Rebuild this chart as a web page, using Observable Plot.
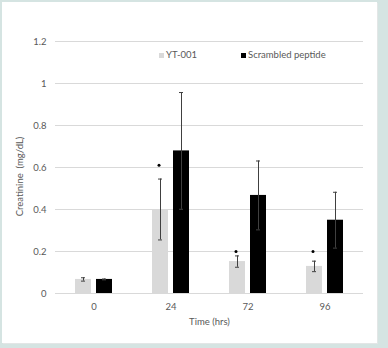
<!DOCTYPE html>
<html>
<head>
<meta charset="utf-8">
<script src="https://cdn.jsdelivr.net/npm/d3@7"></script>
<script src="https://cdn.jsdelivr.net/npm/@observablehq/plot@0.6"></script>
<style>
  html, body { margin: 0; padding: 0; }
  body { width: 388px; height: 348px; background: #d5e4e2; position: relative; overflow: hidden; font-family: Lato, "DejaVu Sans", sans-serif; }
  #panel { position: absolute; left: 2px; top: 2px; width: 375px; height: 341px; background: #fff; box-shadow: 1px 1px 0 #e3e6e6; }
  #legend { position: absolute; left: 0; top: 47px; width: 375px; font-size: 9.5px; color: #595959; }
  .item { position: absolute; white-space: nowrap; }
  .sw { display: inline-block; width: 5px; height: 5px; margin-right: 2px; vertical-align: 0px; }
</style>
</head>
<body>
<div id="panel"><div id="legend"></div></div>
<script>
const times = ["0", "24", "72", "96"];
const seriesNames = ["YT-001", "Scrambled peptide"];
const seriesColors = ["#d9d9d9", "#000000"];
const ytValues = [0.067, 0.40, 0.152, 0.129];
const ytErrors = [0.008, 0.145, 0.027, 0.025];
const scrValues = [0.067, 0.679, 0.467, 0.349];
const scrErrors = [0.002, 0.278, 0.164, 0.133];
const sigMarks = [null, 0.611, 0.2, 0.2];
const yTicks = [0, 0.2, 0.4, 0.6, 0.8, 1, 1.2];
const yLabel = "Creatinine  (mg/dL)";

const rows = [];
times.forEach((t, i) => {
  rows.push({time: t, series: seriesNames[0], value: ytValues[i], err: ytErrors[i]});
  rows.push({time: t, series: seriesNames[1], value: scrValues[i], err: scrErrors[i]});
});
const sig = times.map((t, i) => ({time: t, series: seriesNames[0], value: sigMarks[i]})).filter(d => d.value != null);

const textColor = "#595959";
const plot = Plot.plot({
  width: 375,
  height: 341,
  marginLeft: 51,
  marginRight: 13,
  marginTop: 39,
  marginBottom: 50,
  style: {fontFamily: "Lato, 'DejaVu Sans', sans-serif", fontSize: "9.5px", color: textColor, background: "transparent"},
  fx: {domain: times, padding: 0},
  x: {domain: seriesNames, paddingInner: 0.227, paddingOuter: 0.88, axis: null},
  y: {domain: [0, 1.2], ticks: yTicks},
  color: {domain: seriesNames, range: seriesColors},
  marks: [
    Plot.gridY(yTicks, {stroke: "#d9d9d9", strokeOpacity: 1, strokeWidth: 1}),
    Plot.axisY({ticks: yTicks, tickSize: 0, tickPadding: 9, tickFormat: d => String(+d.toFixed(1)), label: null, fill: textColor}),
    Plot.text([yLabel], {frameAnchor: "left", textAnchor: "middle", rotate: -90, dx: -36, dy: 9, fill: textColor, fontSize: 9.5, facet: "super"}),
    Plot.axisFx({anchor: "bottom", tickSize: 0, tickPadding: 10, label: "Time (hrs)", labelAnchor: "center", labelArrow: "none", labelOffset: 31, fill: textColor}),
    Plot.barY(rows, {fx: "time", x: "series", y: "value", fill: "series"}),
    Plot.ruleX(rows, {fx: "time", x: "series", y1: d => d.value - d.err, y2: d => d.value + d.err, stroke: "#404040", strokeWidth: 1}),
    Plot.tickY(rows, {fx: "time", x: "series", y: d => d.value + d.err, stroke: "#404040", strokeWidth: 1, inset: 6}),
    Plot.tickY(rows, {fx: "time", x: "series", y: d => d.value - d.err, stroke: "#404040", strokeWidth: 1, inset: 6}),
    Plot.dot(sig, {fx: "time", x: "series", y: "value", r: 1.5, fill: "#000", dx: -1.5})
  ]
});
plot.style.position = "absolute";
plot.style.left = "0px";
plot.style.top = "0px";
document.getElementById("panel").appendChild(plot);

const legend = document.getElementById("legend");
const legendX = [157, 239];
seriesNames.forEach((name, i) => {
  const item = document.createElement("span");
  item.className = "item";
  item.style.left = legendX[i] + "px";
  const sw = document.createElement("span");
  sw.className = "sw";
  sw.style.background = seriesColors[i];
  item.appendChild(sw);
  item.appendChild(document.createTextNode(name));
  legend.appendChild(item);
});
</script>
</body>
</html>
